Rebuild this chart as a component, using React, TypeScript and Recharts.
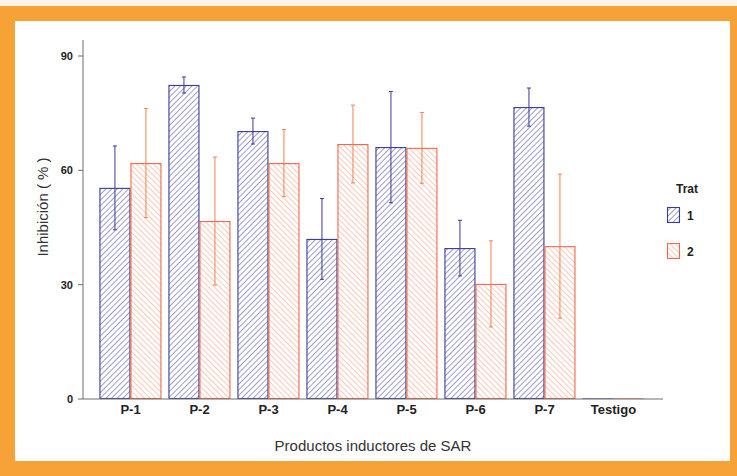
import React from 'react';
import { BarChart, Bar, XAxis, YAxis, ErrorBar, Label } from 'recharts';

const categories = ['P-1', 'P-2', 'P-3', 'P-4', 'P-5', 'P-6', 'P-7', 'Testigo'];
const trat1 = [55.4, 82.4, 70.3, 42.0, 66.1, 39.6, 76.6, 0];
const trat1Err = [11.0, 2.1, 3.4, 10.6, 14.6, 7.3, 5.0, 0];
const trat2 = [61.9, 46.7, 61.9, 66.9, 65.9, 30.2, 40.1, 0];
const trat2Err = [14.3, 16.8, 8.8, 10.2, 9.3, 11.3, 18.9, 0];
const yTicks = [0, 30, 60, 90];
const seriesNames = ['1', '2'];
const legendTitle = 'Trat';
const xTitle = 'Productos inductores de SAR';
const yTitle = 'Inhibición ( % )';

const data = categories.map((c, i) => ({
  cat: c,
  t1: trat1[i],
  e1: trat1Err[i],
  t2: trat2[i],
  e2: trat2Err[i],
}));

const BLUE = '#3a3a9c';
const BLUE_HATCH = '#6868b6';
const ORANGE = '#f06a4c';
const ORANGE_HATCH = '#f7a58e';
const ORANGE_ERR = '#f3824f';
const BOX = '#6f6f6f';
const NARROW = "'Liberation Sans Narrow', 'Arial Narrow', 'Liberation Sans', Arial, sans-serif";
const SANS = "'Liberation Sans', Arial, sans-serif";

function HatchBar(props: any) {
  const { x, y, width, height, fill, stroke } = props;
  if (width == null || x == null) return null;
  if (!height || Math.abs(height) < 0.5) {
    return <line x1={x} x2={x + width} y1={y} y2={y} stroke={stroke} strokeWidth={1.3} />;
  }
  return (
    <rect x={x + 0.5} y={y + 0.5} width={width - 1} height={height - 1} fill={fill} stroke={stroke} strokeWidth={1.1} />
  );
}

export default function App() {
  return (
    <div style={{ position: 'absolute', left: 0, top: 0, width: 737, height: 476, overflow: 'hidden', background: '#f7a236' }}>
      <div style={{ position: 'absolute', left: 0, top: 0, width: 737, height: 6, background: '#fdf3e6' }} />
      <div style={{ position: 'absolute', left: 15, top: 21, width: 715, height: 440, background: '#ffffff' }} />
      <svg width={0} height={0} style={{ position: 'absolute', left: 0, top: 0 }}>
        <defs>
          <pattern id="hatchBlue" patternUnits="userSpaceOnUse" width={4} height={4} patternTransform="rotate(45)">
            <rect x={0} y={0} width={4} height={4} fill="#ffffff" />
            <line x1={0} y1={0} x2={0} y2={4} stroke={BLUE_HATCH} strokeWidth={1.3} />
          </pattern>
          <pattern id="hatchOrange" patternUnits="userSpaceOnUse" width={4} height={4} patternTransform="rotate(-45)">
            <rect x={0} y={0} width={4} height={4} fill="#ffffff" />
            <line x1={0} y1={0} x2={0} y2={4} stroke={ORANGE_HATCH} strokeWidth={1.2} />
          </pattern>
        </defs>
      </svg>
      <div style={{ position: 'absolute', left: 0, top: 0 }}>
        <BarChart
          width={737}
          height={476}
          data={data}
          margin={{ top: 40, right: 74, bottom: 47, left: 43 }}
          barCategoryGap="5%"
          barGap={0}
        >
          <XAxis
            dataKey="cat"
            xAxisId={0}
            padding={{ left: 13, right: 15 }}
            height={30}
            tickLine={false}
            tickSize={0}
            tickMargin={6}
            axisLine={{ stroke: BOX }}
            tick={{ fontFamily: NARROW, fontWeight: 700, fontSize: 13, fill: '#222' }}
            interval={0}
          >
            <Label
              content={(p: any) => {
                const vb = p.viewBox || {};
                return (
                  <text x={vb.x + vb.width / 2} y={451} textAnchor="middle" fontFamily={SANS} fontSize={15} fill="#333">
                    {xTitle}
                  </text>
                );
              }}
            />
          </XAxis>
          <XAxis xAxisId="top" orientation="top" dataKey="cat" height={0} tick={false} tickLine={false} axisLine={{ stroke: BOX }} />
          <YAxis
            yAxisId={0}
            width={40}
            domain={[0, 94.2]}
            ticks={yTicks}
            allowDataOverflow
            tickSize={5}
            tickMargin={5}
            axisLine={{ stroke: BOX }}
            tickLine={{ stroke: BOX }}
            tick={{ fontFamily: NARROW, fontWeight: 700, fontSize: 11, fill: '#222' }}
          >
            <Label
              content={() => (
                <text x={42} y={207} transform="rotate(-90 42 207)" textAnchor="middle" dominantBaseline="central" fontFamily={SANS} fontSize={15} fill="#333">
                  {yTitle}
                </text>
              )}
            />
          </YAxis>
          <YAxis yAxisId="right" orientation="right" width={0} tick={false} tickLine={false} axisLine={{ stroke: BOX }} />
          <Bar
            dataKey="t1"
            name={seriesNames[0]}
            fill="url(#hatchBlue)"
            isAnimationActive={false}
            shape={(p: any) => <HatchBar {...p} stroke={BLUE} />}
          >
            <ErrorBar dataKey="e1" direction="y" width={2} strokeWidth={1} stroke={BLUE} />
          </Bar>
          <Bar
            dataKey="t2"
            name={seriesNames[1]}
            fill="url(#hatchOrange)"
            isAnimationActive={false}
            shape={(p: any) => <HatchBar {...p} stroke={ORANGE} />}
          >
            <ErrorBar dataKey="e2" direction="y" width={2} strokeWidth={1} stroke={ORANGE_ERR} />
          </Bar>
        </BarChart>
      </div>
      <svg width={70} height={90} style={{ position: 'absolute', left: 660, top: 178 }}>
        <text x={27} y={15} textAnchor="middle" fontFamily={NARROW} fontWeight={700} fontSize={12} fill="#222">
          {legendTitle}
        </text>
        <rect x={7.5} y={29.5} width={12} height={15} fill="url(#hatchBlue)" stroke={BLUE} strokeWidth={1.1} />
        <text x={27} y={42} fontFamily={NARROW} fontWeight={700} fontSize={12} fill="#222">
          {seriesNames[0]}
        </text>
        <rect x={7.5} y={65.5} width={12} height={15} fill="url(#hatchOrange)" stroke={ORANGE} strokeWidth={1.1} />
        <text x={27} y={78} fontFamily={NARROW} fontWeight={700} fontSize={12} fill="#222">
          {seriesNames[1]}
        </text>
      </svg>
    </div>
  );
}
